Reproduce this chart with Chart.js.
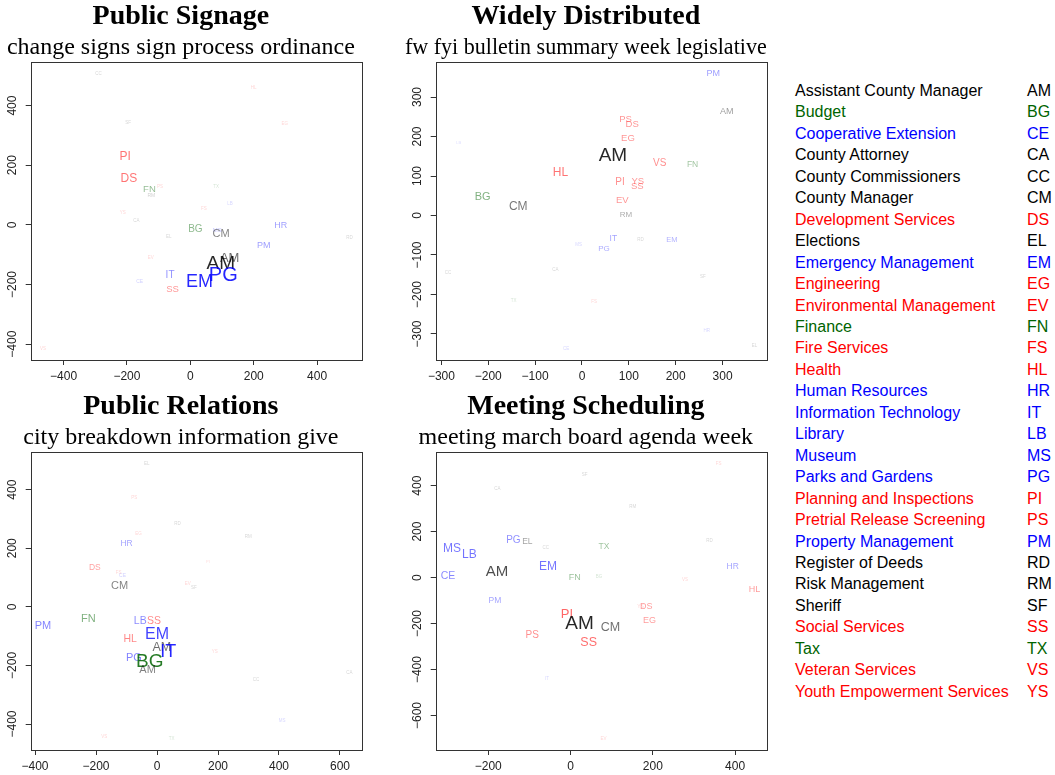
<!DOCTYPE html>
<html>
<head>
<meta charset="UTF-8">
<title>Department topic maps</title>
<script src="https://cdn.jsdelivr.net/npm/chart.js@4.4.1/dist/chart.umd.min.js"></script>
<style>
  body { margin: 0; background: #fff; font-family: "Liberation Sans", Arial, sans-serif; }
  .panel { position: absolute; }
  #legend { position: absolute; left: 795px; top: 80px; font-size: 16px; }
  .row { position: relative; height: 21.46px; line-height: 21.46px; white-space: nowrap; width: 260px; }
  .row .code { position: absolute; left: 232px; top: 0; }
</style>
<script>
// departments (legend order)
var deptNames = ['Assistant County Manager', 'Budget', 'Cooperative Extension', 'County Attorney',
  'County Commissioners', 'County Manager', 'Development Services', 'Elections', 'Emergency Management',
  'Engineering', 'Environmental Management', 'Finance', 'Fire Services', 'Health', 'Human Resources',
  'Information Technology', 'Library', 'Museum', 'Parks and Gardens', 'Planning and Inspections',
  'Pretrial Release Screening', 'Property Management', 'Register of Deeds', 'Risk Management', 'Sheriff',
  'Social Services', 'Tax', 'Veteran Services', 'Youth Empowerment Services'];
var deptCodes = ['AM', 'BG', 'CE', 'CA', 'CC', 'CM', 'DS', 'EL', 'EM', 'EG', 'EV', 'FN', 'FS', 'HL', 'HR',
  'IT', 'LB', 'MS', 'PG', 'PI', 'PS', 'PM', 'RD', 'RM', 'SF', 'SS', 'TX', 'VS', 'YS'];
var deptGroups = ['k', 'g', 'b', 'k', 'k', 'k', 'r', 'k', 'b', 'r', 'r', 'g', 'r', 'r', 'b',
  'b', 'b', 'b', 'b', 'r', 'r', 'b', 'k', 'k', 'k', 'r', 'g', 'r', 'r'];

// panel 1
var signageTitle = 'Public Signage';
var signageWords = 'change signs sign process ordinance';
var signageCodes = ['CC', 'HL', 'SF', 'EG', 'PI', 'DS', 'FN', 'PS', 'TX', 'RM', 'LB', 'FS', 'YS', 'CA', 'BG',
  'MS', 'CM', 'HR', 'EL', 'RD', 'PM', 'AM', 'AM', 'EV', 'PG', 'IT', 'EM', 'CE', 'SS', 'VS'];
var signageX = [-290, 200, -196, 298, -206, -194, -129, -96, 81, -123, 125, 43, -213, -170, 16,
  85, 97, 285, -68, 502, 232, 124, 96, -125, 104, -64, 29, -160, -56, -465];
var signageY = [508, 458, 341, 338, 227, 155, 120, 127, 127, 97, 70, 53, 40, 13, -14,
  -19, -31, -2, -40, -43, -69, -113, -130, -109, -168, -168, -190, -190, -217, -416];
var signageWeight = [4.5, 4.5, 4.5, 4.5, 12, 12, 9.5, 4.5, 4.5, 5, 4.5, 4.5, 4.5, 4.5, 10,
  6, 11, 9, 4.5, 4.5, 9, 13, 19, 4.5, 20, 10, 18, 5, 9.5, 4.5];
var signageXTicks = [-400, -200, 0, 200, 400];
var signageYTicks = [-400, -200, 0, 200, 400];

// panel 2
var widelyTitle = 'Widely Distributed';
var widelyWords = 'fw fyi bulletin summary week legislative';
var widelyCodes = ['PM', 'AM', 'PS', 'DS', 'LB', 'EG', 'AM', 'VS', 'FN', 'HL', 'PI', 'YS', 'SS', 'BG', 'EV',
  'CM', 'RM', 'IT', 'RD', 'EM', 'MS', 'PG', 'CC', 'CA', 'SF', 'TX', 'FS', 'HR', 'EL', 'CE'];
var widelyX = [280, 309, 93, 107, -263, 98, 66, 166, 236, -46, 81, 119, 118, -212, 86,
  -136, 94, 67, 125, 192, -7, 47, -286, -57, 258, -146, 26, 266, 368, -34];
var widelyY = [360, 263, 243, 230, 184, 195, 150, 132, 128, 108, 84, 87, 74, 46, 38,
  22, 3, -59, -62, -61, -75, -84, -144, -138, -155, -215, -219, -292, -330, -338];
var widelyWeight = [9, 9, 9.5, 9.5, 4, 9.5, 19, 10, 8.5, 12, 10, 9.5, 9.5, 11, 9.5,
  12, 8, 8.5, 4.5, 7.5, 4.5, 8, 4.5, 4.5, 4.5, 4.5, 4.5, 4.5, 4.5, 4.5];
var widelyXTicks = [-300, -200, -100, 0, 100, 200, 300];
var widelyYTicks = [-300, -200, -100, 0, 100, 200, 300];

// panel 3
var relationsTitle = 'Public Relations';
var relationsWords = 'city breakdown information give';
var relationsCodes = ['EL', 'PS', 'RD', 'EG', 'RM', 'HR', 'PI', 'DS', 'FS', 'CE', 'CM', 'EV', 'SF', 'PM', 'FN',
  'LB', 'SS', 'EM', 'HL', 'AM', 'IT', 'YS', 'PG', 'BG', 'AM', 'CA', 'CC', 'MS', 'VS', 'TX'];
var relationsX = [-34, -75, 67, -61, 299, -100, 167, -204, -126, -113, -123, 101, 121, -374, -225,
  -55, -10, 0, -88, 16, 37, 189, -76, -24, -31, 631, 325, 410, -173, 48];
var relationsY = [490, 371, 285, 251, 241, 216, 155, 134, 118, 107, 71, 80, 66, -66, -43,
  -48, -48, -93, -110, -139, -154, -153, -173, -186, -214, -225, -250, -390, -442, -451];
var relationsWeight = [4.5, 4.5, 4.5, 4.5, 4.5, 8.5, 4, 8.5, 4.5, 5, 11, 4.5, 4.5, 11, 11,
  10.5, 10.5, 16, 10.5, 12.5, 18, 4.5, 11, 19, 11, 4.5, 4.5, 4.5, 4.5, 4.5];
var relationsXTicks = [-400, -200, 0, 200, 400, 600];
var relationsYTicks = [-400, -200, 0, 200, 400];

// panel 4
var meetingTitle = 'Meeting Scheduling';
var meetingWords = 'meeting march board agenda week';
var meetingCodes = ['FS', 'SF', 'CA', 'RM', 'PG', 'EL', 'RD', 'MS', 'CC', 'TX', 'LB', 'AM', 'CE', 'EM', 'FN',
  'BG', 'HR', 'VS', 'HL', 'PM', 'YS', 'DS', 'PI', 'AM', 'EG', 'CM', 'PS', 'SS', 'IT', 'EV'];
var meetingX = [360, 34, -178, 151, -139, -105, 338, -288, -60, 81, -246, -179, -298, -55, 10,
  69, 394, 278, 447, -184, 170, 184, -9, 22, 192, 97, -93, 44, -57, 80];
var meetingY = [497, 449, 388, 306, 163, 157, 161, 126, 131, 135, 98, 23, 8, 48, 0,
  5, 48, -8, -54, -101, -127, -127, -162, -199, -187, -217, -250, -282, -440, -702];
var meetingWeight = [4.5, 4.5, 4.5, 4.5, 10, 8.5, 4.5, 12, 4.5, 8.5, 12, 15, 10.5, 12, 9,
  4.5, 8.5, 4.5, 9, 8.5, 5, 9, 13, 19, 9, 12.5, 10, 12.5, 4.5, 4.5];
var meetingXTicks = [-200, 0, 200, 400];
var meetingYTicks = [-600, -400, -200, 0, 200, 400];

var groupRgb = { k: '0,0,0', g: '0,100,0', b: '0,0,255', r: '255,0,0' };
var legendColors = { k: '#000000', g: '#006400', b: '#0000ff', r: '#ff0000' };
var sansFont = '"Liberation Sans", Arial, sans-serif';
var serifFont = '"Liberation Serif", "Times New Roman", serif';
</script>
</head>
<body>
<div class="panel" style="left:0px;top:0px"><canvas id="c1" width="370" height="385"></canvas></div>
<div class="panel" style="left:405px;top:0px"><canvas id="c2" width="370" height="385"></canvas></div>
<div class="panel" style="left:0px;top:390px"><canvas id="c3" width="370" height="385"></canvas></div>
<div class="panel" style="left:405px;top:390px"><canvas id="c4" width="370" height="385"></canvas></div>
<div id="legend"></div>

<script>
function groupOf(code) {
  return deptGroups[deptCodes.indexOf(code)];
}

function fmt(v) {
  return v < 0 ? '\u2212' + Math.abs(v) : String(v);
}

// R style range: data range plus 4% on each side
function padRange(vals) {
  var lo = Math.min.apply(null, vals), hi = Math.max.apply(null, vals);
  var d = (hi - lo) * 0.04;
  return [lo - d, hi + d];
}

// draws each department code at its point, size and opacity from its weight
var textMarks = {
  id: 'textMarks',
  afterDatasetsDraw: function(chart) {
    var ctx = chart.ctx;
    chart.data.datasets.forEach(function(ds, di) {
      var meta = chart.getDatasetMeta(di);
      meta.data.forEach(function(pt, i) {
        var w = ds.weights[i];
        var alpha = Math.min(0.85, 0.15 + (w - 4) * 0.05);
        ctx.save();
        ctx.font = w + 'px ' + sansFont;
        ctx.fillStyle = 'rgba(' + groupRgb[groupOf(ds.codes[i])] + ',' + alpha + ')';
        ctx.textAlign = 'center';
        ctx.textBaseline = 'middle';
        ctx.fillText(ds.codes[i], pt.x, pt.y);
        ctx.restore();
      });
    });
  }
};

// plot box and vertical y tick labels
var frame = {
  id: 'frame',
  afterDraw: function(chart) {
    var a = chart.chartArea, ctx = chart.ctx, ys = chart.scales.y;
    ctx.save();
    ctx.strokeStyle = '#333';
    ctx.lineWidth = 1;
    ctx.strokeRect(Math.round(a.left) + 0.5, Math.round(a.top) + 0.5,
      Math.round(a.right - a.left), Math.round(a.bottom - a.top));
    ctx.font = '12px ' + sansFont;
    ctx.fillStyle = '#222';
    ctx.textAlign = 'center';
    ctx.textBaseline = 'middle';
    ys.ticks.forEach(function(t) {
      var py = ys.getPixelForValue(t.value);
      ctx.save();
      ctx.translate(a.left - 18.5, py);
      ctx.rotate(-Math.PI / 2);
      ctx.fillText(fmt(t.value), 0, 0);
      ctx.restore();
    });
    ctx.restore();
  }
};

function makePanel(id, title, words, codes, xs, ys, weights, xTicks, yTicks) {
  var xr = padRange(xs), yr = padRange(ys);
  var pts = xs.map(function(x, i) { return { x: x, y: ys[i] }; });
  return new Chart(document.getElementById(id), {
    type: 'scatter',
    data: {
      datasets: [{ data: pts, codes: codes, weights: weights, pointRadius: 0, pointHoverRadius: 0 }]
    },
    options: {
      responsive: false,
      animation: false,
      layout: { padding: { left: 0, right: 8.3, top: 0, bottom: 0 } },
      plugins: {
        legend: { display: false },
        tooltip: { enabled: false },
        title: {
          display: true, text: title, color: '#000',
          font: { family: serifFont, size: 28, weight: 'bold', lineHeight: 1 },
          padding: { top: 3, bottom: 0 }
        },
        subtitle: {
          display: true, text: words, color: '#000',
          font: { family: serifFont, size: 24, weight: 'normal', lineHeight: 1 },
          padding: { top: 4.8, bottom: 2.5 }
        }
      },
      scales: {
        x: {
          type: 'linear', min: xr[0], max: xr[1],
          afterBuildTicks: function(s) { s.ticks = xTicks.map(function(v) { return { value: v }; }); },
          afterFit: function(s) { s.height = 25; },
          grid: { drawOnChartArea: false, drawTicks: true, tickLength: 5, color: '#333' },
          border: { display: false },
          ticks: { color: '#222', font: { family: sansFont, size: 12 }, padding: 4, maxRotation: 0, callback: fmt }
        },
        y: {
          type: 'linear', min: yr[0], max: yr[1],
          afterBuildTicks: function(s) { s.ticks = yTicks.map(function(v) { return { value: v }; }); },
          afterFit: function(s) { s.width = 30.7; },
          grid: { drawOnChartArea: false, drawTicks: true, tickLength: 5, color: '#333' },
          border: { display: false },
          ticks: { display: false }
        }
      }
    },
    plugins: [textMarks, frame]
  });
}

makePanel('c1', signageTitle, signageWords, signageCodes, signageX, signageY, signageWeight, signageXTicks, signageYTicks);
makePanel('c2', widelyTitle, widelyWords, widelyCodes, widelyX, widelyY, widelyWeight, widelyXTicks, widelyYTicks);
makePanel('c3', relationsTitle, relationsWords, relationsCodes, relationsX, relationsY, relationsWeight, relationsXTicks, relationsYTicks);
makePanel('c4', meetingTitle, meetingWords, meetingCodes, meetingX, meetingY, meetingWeight, meetingXTicks, meetingYTicks);

// legend list on the right
var legend = document.getElementById('legend');
deptNames.forEach(function(name, i) {
  var row = document.createElement('div');
  row.className = 'row';
  row.style.color = legendColors[deptGroups[i]];
  var n = document.createElement('span');
  n.textContent = name;
  var c = document.createElement('span');
  c.className = 'code';
  c.textContent = deptCodes[i];
  row.appendChild(n);
  row.appendChild(c);
  legend.appendChild(row);
});
</script>
</body>
</html>
